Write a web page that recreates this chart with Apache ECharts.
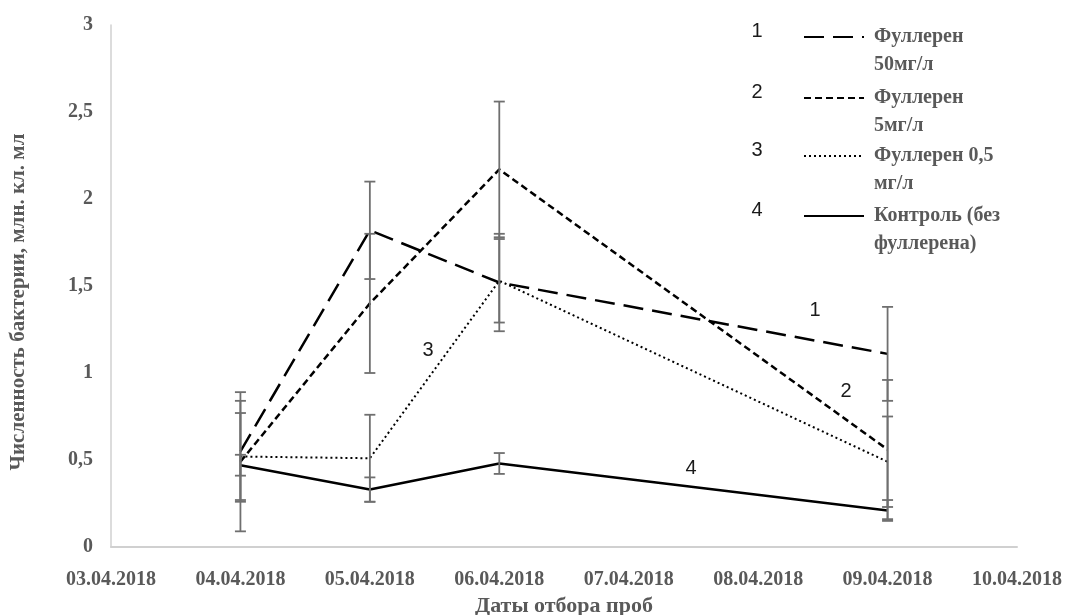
<!DOCTYPE html>
<html><head><meta charset="utf-8">
<script src="https://cdn.jsdelivr.net/npm/echarts@6/dist/echarts.min.js"></script>
<style>html,body{margin:0;padding:0;background:#fff}#c{width:1073px;height:615px}</style>
</head><body><div id="c"></div>
<script>
// ---- data ----
const dates = ['03.04.2018','04.04.2018','05.04.2018','06.04.2018','07.04.2018','08.04.2018','09.04.2018','10.04.2018'];
const sampleDates = ['04.04.2018','05.04.2018','06.04.2018','09.04.2018'];
const seriesNames = ['Фуллерен 50мг/л','Фуллерен 5мг/л','Фуллерен 0,5 мг/л','Контроль (без фуллерена)'];
const legendLabels = ['Фуллерен\n50мг/л','Фуллерен\n5мг/л','Фуллерен 0,5\nмг/л','Контроль (без\nфуллерена)'];
const legendNumbers = ['1','2','3','4'];
const fullerene50 = [0.55, 1.82, 1.52, 1.11];
const fullerene5 = [0.49, 1.40, 2.17, 0.56];
const fullerene05 = [0.52, 0.51, 1.53, 0.49];
const control = [0.47, 0.33, 0.48, 0.21];
const err50 = [0.29, 0.28, 0.28, 0.27];
const err5 = [0.40, 0.40, 0.39, 0.40];
const err05 = [0.25, 0.25, 0.24, 0.26];
const errControl = [0.06, 0.07, 0.06, 0.06];
const yTitle = 'Численность бактерии, млн. кл. мл';
const xTitle = 'Даты отбора проб';

// ---- styles ----
const values = [fullerene50, fullerene5, fullerene05, control];
const errors = [err50, err5, err05, errControl];
const lineStyles = [
  {color:'#000', width:2.5, type:[20,9]},
  {color:'#000', width:2.5, type:[7,4]},
  {color:'#000', width:2, type:[2,3]},
  {color:'#000', width:2.5, type:'solid'}
];
const grey = '#595959';
const serif = '"Liberation Serif", "Times New Roman", serif';
const sans = '"Liberation Sans", Arial, sans-serif';
const legendIconY = [37, 98, 156, 216];
const inPlotNums = [[815,310],[846,391],[428,350],[691,468]];

const chart = echarts.init(document.getElementById('c'));

const lineSeries = values.map((vals, i) => ({
  name: seriesNames[i],
  type: 'line',
  data: sampleDates.map((d, j) => [d, vals[j]]),
  symbol: 'none',
  lineStyle: lineStyles[i],
  itemStyle: {color:'#000'},
  z: 3
}));

const errSeries = values.map((vals, i) => ({
  name: 'err' + i,
  type: 'custom',
  data: sampleDates.map((d, j) => [d, vals[j], errors[i][j]]),
  encode: {x: 0, y: 1},
  z: 4,
  renderItem: function(params, api) {
    const c = api.value(0), v = api.value(1), e = api.value(2);
    const hi = api.coord([c, v + e]), lo = api.coord([c, v - e]);
    const w = 5.5, st = {stroke:'#6f6f6f', lineWidth:1.8};
    return {type:'group', children:[
      {type:'line', shape:{x1:hi[0], y1:hi[1], x2:lo[0], y2:lo[1]}, style:st},
      {type:'line', shape:{x1:hi[0]-w, y1:hi[1], x2:hi[0]+w, y2:hi[1]}, style:st},
      {type:'line', shape:{x1:lo[0]-w, y1:lo[1], x2:lo[0]+w, y2:lo[1]}, style:st}
    ]};
  }
}));

const legends = seriesNames.map((n, i) => ({
  data: [n],
  left: 803,
  top: legendIconY[i] - 42,
  padding: 0,
  itemWidth: 60,
  itemHeight: 14,
  selectedMode: false,
  formatter: () => '\n' + legendLabels[i],
  itemStyle: {color:'rgba(0,0,0,0)', borderColor:'rgba(0,0,0,0)', borderWidth:0, opacity:0},
  textStyle: {fontFamily: serif, fontWeight:'bold', fontSize:20, color:grey, lineHeight:28, padding:[0,0,0,5]}
}));

const graphics = [
  {type:'text', x:19, y:302, rotation:Math.PI/2,
   style:{text:yTitle, font:'bold 21px ' + serif, fill:grey, align:'center', verticalAlign:'middle'}}
];
legendNumbers.forEach((t, i) => {
  graphics.push({type:'text', x:757, y:legendIconY[i]-6,
    style:{text:t, font:'20px ' + sans, fill:'#1a1a1a', align:'center', verticalAlign:'middle'}});
  graphics.push({type:'text', x:inPlotNums[i][0], y:inPlotNums[i][1],
    style:{text:t, font:'20px ' + sans, fill:'#1a1a1a', align:'center', verticalAlign:'middle'}});
});

chart.setOption({
  animation: false,
  backgroundColor: '#fff',
  grid: {left:111, right:56, top:25, bottom:68, containLabel:false, outerBoundsMode:'none'},
  legend: legends,
  xAxis: {
    type:'category', data:dates, boundaryGap:false,
    axisLine:{lineStyle:{color:'#d0d0d0', width:2}},
    axisTick:{show:false},
    axisLabel:{interval:0, margin:23, fontFamily:serif, fontWeight:'bold', fontSize:20, color:grey},
    name: xTitle, nameLocation:'middle', nameGap:45,
    nameTextStyle:{fontFamily:serif, fontWeight:'bold', fontSize:22, color:grey}
  },
  yAxis: {
    type:'value', min:0, max:3, interval:0.5,
    axisLine:{show:true, lineStyle:{color:'#d0d0d0', width:1.5}},
    axisTick:{show:false},
    splitLine:{show:false},
    axisLabel:{margin:18, fontFamily:serif, fontWeight:'bold', fontSize:20, color:grey,
      formatter: v => String(v).replace('.', ',')}
  },
  graphic: graphics,
  series: lineSeries.concat(errSeries)
});
</script>
</body></html>
